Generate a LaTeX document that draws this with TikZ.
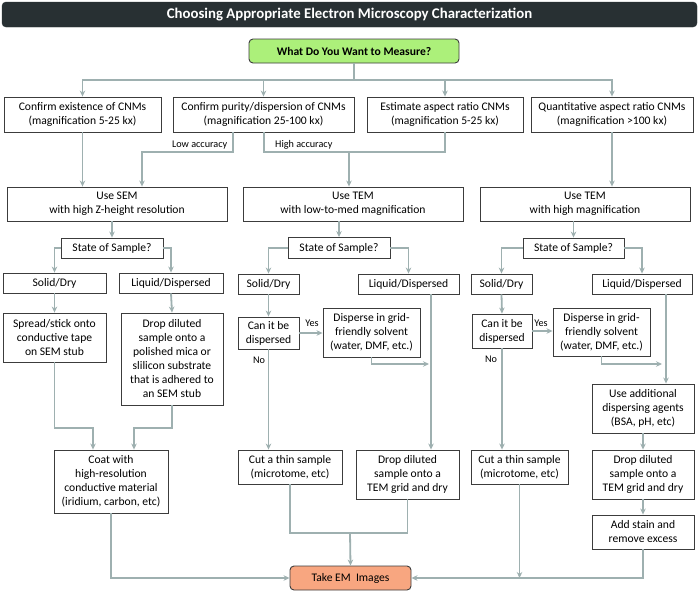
\documentclass[tikz,border=0pt]{standalone}
\usepackage{fontspec}
\setmainfont{Carlito}
\usetikzlibrary{arrows.meta}
\definecolor{linec}{RGB}{158,176,176}
\definecolor{titlec}{RGB}{40,48,51}
\definecolor{greenc}{RGB}{172,240,122}
\definecolor{orangec}{RGB}{248,166,128}
\definecolor{boxc}{RGB}{60,60,60}
\tikzset{
  bx/.style={draw=boxc, line width=0.9pt, fill=white, align=center, inner sep=0pt,
    font=\fontsize{11.6}{14}\selectfont, text=black},
  ln/.style={draw=linec, line width=1.8pt},
  arr/.style={ln, -{Stealth[length=6pt,width=5.5pt]}},
  lbl/.style={font=\fontsize{10.2}{12}\selectfont, text=black, inner sep=0pt},
}
\begin{document}
\begin{tikzpicture}[x=1pt,y=-1pt]
\useasboundingbox (0,0) rectangle (700,592);
\fill[white] (0,0) rectangle (700,592);
% title
\node[fill=titlec, draw=titlec, rounded corners=4pt, minimum width=695pt, minimum height=25pt,
  text=white, font=\bfseries\fontsize{14.8}{16}\selectfont, inner sep=0pt] (title) at (349.5,14.5)
  {Choosing Appropriate Electron Microscopy Characterization};
\node[bx, fill=greenc, rounded corners=4pt, minimum width=210pt, minimum height=24pt,
  font=\bfseries\fontsize{11.6}{13}\selectfont] (green) at (354,51) {What Do You Want to Measure?};
% row 1
\node[bx, minimum width=157pt, minimum height=35pt] (b1) at (82.5,114.5) {Confirm existence of CNMs\\(magnification 5-25 kx)};
\node[bx, minimum width=181pt, minimum height=35pt] (b2) at (263.5,114.5) {Confirm purity/dispersion of CNMs\\(magnification 25-100 kx)};
\node[bx, minimum width=156pt, minimum height=35pt] (b3) at (445,114.5) {Estimate aspect ratio CNMs\\(magnification 5-25 kx)};
\node[bx, minimum width=162pt, minimum height=35pt] (b4) at (612,114.5) {Quantitative aspect ratio CNMs\\(magnification >100 kx)};
% row 2
\node[bx, minimum width=220pt, minimum height=34pt] (sem) at (117,204) {Use SEM\\with high Z-height resolution};
\node[bx, minimum width=220pt, minimum height=34pt] (teml) at (353,204) {Use TEM\\with low-to-med magnification};
\node[bx, minimum width=210pt, minimum height=34pt] (temh) at (585,204) {Use TEM\\with high magnification};
% state
\node[bx, minimum width=102pt, minimum height=20pt] (st1) at (112,248) {State of Sample?};
\node[bx, minimum width=102pt, minimum height=21pt] (st2) at (339,248) {State of Sample?};
\node[bx, minimum width=101pt, minimum height=20pt] (st3) at (573.5,248) {State of Sample?};
% solid / liquid
\node[bx, minimum width=103pt, minimum height=20pt] (sd1) at (54.5,283) {Solid/Dry};
\node[bx, minimum width=104pt, minimum height=20pt] (ld1) at (171,283) {Liquid/Dispersed};
\node[bx, minimum width=61pt, minimum height=20pt] (sd2) at (268.5,284) {Solid/Dry};
\node[bx, minimum width=101pt, minimum height=20pt] (ld2) at (408.5,284) {Liquid/Dispersed};
\node[bx, minimum width=61pt, minimum height=20pt] (sd3) at (501.5,284) {Solid/Dry};
\node[bx, minimum width=100pt, minimum height=20pt] (ld3) at (642,284) {Liquid/Dispersed};
% SEM column
\node[bx, minimum width=103pt, minimum height=49pt] (spread) at (54.5,337.5) {Spread/stick onto\\conductive tape\\on SEM stub};
\node[bx, minimum width=102pt, minimum height=92pt] (dropS) at (172,359) {Drop diluted\\sample onto a\\polished mica or\\slilicon substrate\\that is adhered to\\an SEM stub};
\node[bx, minimum width=114pt, minimum height=63pt] (coat) at (111,481.5) {Coat with\\high-resolution\\conductive material\\(iridium, carbon, etc)};
% middle column
\node[bx, minimum width=61pt, minimum height=32pt] (can2) at (268.5,333) {Can it be\\dispersed};
\node[bx, minimum width=97pt, minimum height=49pt] (disp2) at (371.5,332.5) {Disperse in grid-\\friendly solvent\\(water, DMF, etc.)};
\node[bx, minimum width=104pt, minimum height=34pt] (cut2) at (290,467) {Cut a thin sample\\(microtome, etc)};
\node[bx, minimum width=103pt, minimum height=49pt] (dropM) at (407.5,474.5) {Drop diluted\\sample onto a\\TEM grid and dry};
% right column
\node[bx, minimum width=60pt, minimum height=34pt] (can3) at (502,331) {Can it be\\dispersed};
\node[bx, minimum width=97pt, minimum height=48pt] (disp3) at (601.5,332) {Disperse in grid-\\friendly solvent\\(water, DMF, etc.)};
\node[bx, minimum width=102pt, minimum height=49pt] (useadd) at (643,408.5) {Use additional\\dispersing agents\\(BSA, pH, etc)};
\node[bx, minimum width=97pt, minimum height=34pt] (cut3) at (519.5,467) {Cut a thin sample\\(microtome, etc)};
\node[bx, minimum width=102pt, minimum height=49pt] (dropR) at (643,474.5) {Drop diluted\\sample onto a\\TEM grid and dry};
\node[bx, minimum width=102pt, minimum height=34pt] (stain) at (643,532) {Add stain and\\remove excess};
% final
\node[bx, fill=orangec, rounded corners=4pt, minimum width=121pt, minimum height=24pt] (take) at (350.5,578) {Take EM~ Images};

% ---- connectors ----
\coordinate (top) at (354,80);
\draw[ln] (green.south) -- (top);
\draw[arr] (top) -| (b1.north);
\draw[arr] (top) -| (b2.north);
\draw[arr] (top) -| (b3.north);
\draw[arr] (top) -| (b4.north);

\draw[arr] (b1.south) -- (b1.south |- sem.north);
\draw[arr] (b2.south -| 233,0) |- (142,152) -- (sem.north -| 142,0);
\coordinate (hj) at (349,152);
\draw[ln] (b2.south -| 264,0) |- (b3.south |- hj) -- (b3.south);
\draw[arr] (hj) -- (teml.north -| hj);
\draw[arr] (b4.south) -- (b4.south |- temh.north);
\node[lbl, anchor=east] (lowlbl) at (227.5,145) {Low accuracy};
\node[lbl, anchor=west] (highlbl) at (275,145) {High accuracy};

% SEM column
\draw[arr] (sem.south -| st1.north) -- (st1.north);
\draw[arr] (st1.west) -| (sd1.north);
\draw[arr] (st1.east) -| (ld1.north);
\draw[arr] (sd1.south) -- (spread.north);
\draw[arr] (ld1.south) -- (dropS.north);
\draw[arr] (spread.south) |- (93,428) -- (coat.north -| 93,0);
\draw[arr] (dropS.south) |- (134,428) -- (coat.north -| 134,0);
\draw[arr] (coat.south) |- (take.west);

% middle column
\draw[arr] (teml.south -| st2.north) -- (st2.north);
\draw[arr] (st2.west) -| (sd2.north);
\draw[arr] (st2.east) -| (ld2.north);
\draw[arr] (sd2.south) -- (can2.north);
\draw[arr] (can2.east) -- (can2.east -| disp2.west);
\node[lbl] (yes2) at (312,323) {Yes};
\draw[arr] (can2.south) -- (can2.south |- cut2.north);
\node[lbl] (no2) at (259,360) {No};
\draw[arr] (ld2.south -| 431,0) -- (dropM.north -| 431,0);
\coordinate (d2e) at (429,364);
\draw[arr] (disp2.south) |- (d2e);
\coordinate (mj) at (350,533);
\draw[ln] (cut2.south) |- (dropM.south |- mj) -- (dropM.south);
\draw[arr] (mj) -- (take.north);

% right column
\draw[arr] (temh.south -| st3.north) -- (st3.north);
\draw[arr] (st3.west) -| (sd3.north);
\draw[arr] (st3.east) -| (ld3.north);
\draw[arr] (sd3.south) -- (can3.north);
\draw[arr] (can3.east) -- (can3.east -| disp3.west);
\node[lbl] (yes3) at (541,323) {Yes};
\draw[arr] (can3.south) -- (can3.south |- cut3.north);
\node[lbl] (no3) at (491,359) {No};
\draw[arr] (ld3.south -| 666,0) -- (useadd.north -| 666,0);
\coordinate (d3e) at (662,364);
\draw[arr] (disp3.south) |- (d3e);
\draw[arr] (useadd.south) -- (dropR.north);
\draw[arr] (dropR.south) -- (stain.north);
\draw[arr] (stain.south) |- (take.east);
\coordinate (cj) at (519.5,578);
\draw[arr] (cut3.south) -- (cj);
\end{tikzpicture}
\end{document}
